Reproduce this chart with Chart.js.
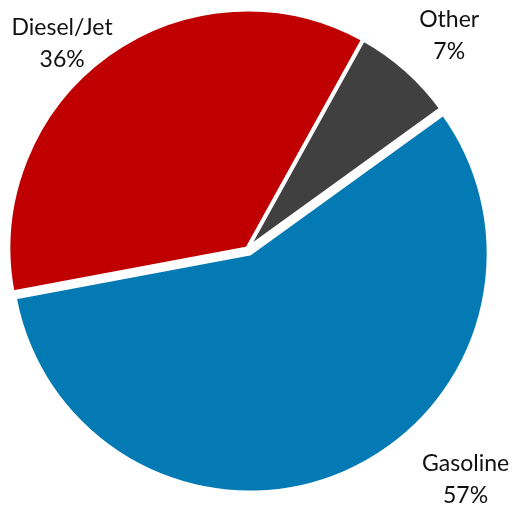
<!DOCTYPE html>
<html>
<head>
<meta charset="utf-8">
<script src="https://cdn.jsdelivr.net/npm/chart.js@4/dist/chart.umd.min.js"></script>
<style>
  html, body { margin: 0; padding: 0; background: #fff; }
  #wrap { width: 519px; height: 508px; position: relative; }
</style>
</head>
<body>
<div id="wrap"><canvas id="pie" width="519" height="508"></canvas></div>
<script>
// Fuel product shares (percent)
const categories = ['Gasoline', 'Diesel/Jet', 'Other'];
const shares = [57, 36, 7];
const sliceColors = ['#037AB3', '#C00000', '#404040'];

// Distance (px) each slice is pulled out from the centre
const explodeDistance = [5.5, 0, 0];

// Label placement around the pie: angle (deg, clockwise from 12 o'clock) and distance from centre
const labelPlacement = [
  { angle: 136.7, dist: 318 },
  { angle: 317.8, dist: 276 },
  { angle: 43.5, dist: 293 }
];

// Moves exploded slices outward along their mid-angle without changing their radius
const explodeSlices = {
  id: 'explodeSlices',
  afterUpdate(chart) {
    chart.getDatasetMeta(0).data.forEach((arc, i) => {
      const d = explodeDistance[i] || 0;
      if (!d) return;
      const mid = (arc.startAngle + arc.endAngle) / 2;
      arc.x += Math.cos(mid) * d;
      arc.y += Math.sin(mid) * d;
    });
  }
};

const outsideLabels = {
  id: 'outsideLabels',
  afterDatasetsDraw(chart) {
    const ctx = chart.ctx;
    const area = chart.chartArea;
    const ox = (area.left + area.right) / 2;
    const oy = (area.top + area.bottom) / 2;
    const data = chart.data.datasets[0].data;
    ctx.save();
    ctx.font = '23px Lato, "Open Sans", sans-serif';
    ctx.fillStyle = '#111';
    ctx.textAlign = 'center';
    ctx.textBaseline = 'middle';
    data.forEach((v, i) => {
      const p = labelPlacement[i];
      const a = (p.angle - 90) * Math.PI / 180;
      const cx = ox + Math.cos(a) * p.dist;
      const cy = oy + Math.sin(a) * p.dist;
      ctx.fillText(chart.data.labels[i], cx, cy - 16);
      ctx.fillText(v + '%', cx, cy + 16);
    });
    ctx.restore();
  }
};

new Chart(document.getElementById('pie'), {
  type: 'pie',
  data: {
    labels: categories,
    datasets: [{
      data: shares,
      backgroundColor: sliceColors,
      borderColor: '#ffffff',
      borderWidth: 4
    }]
  },
  options: {
    responsive: false,
    animation: false,
    rotation: 54.2,
    radius: 239,
    layout: { padding: { left: 8, right: 32, top: 0, bottom: 11 } },
    plugins: {
      legend: { display: false },
      tooltip: { enabled: false }
    }
  },
  plugins: [explodeSlices, outsideLabels]
});
</script>
</body>
</html>
